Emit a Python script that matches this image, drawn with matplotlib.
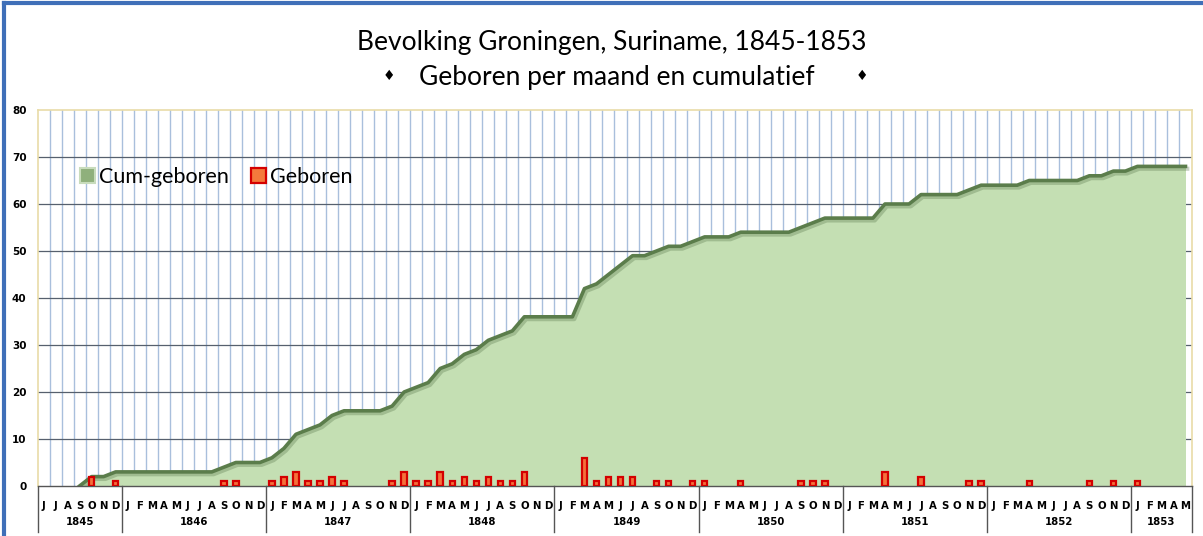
import numpy as np
import matplotlib.pyplot as plt
from matplotlib.lines import Line2D
from matplotlib.patches import Patch
import matplotlib.transforms as mtransforms

# monthly births, Jun 1845 .. May 1853
geboren_1845 = [0, 0, 0, 0, 2, 0, 1]
geboren_1846 = [0, 0, 0, 0, 0, 0, 0, 0, 1, 1, 0, 0]
geboren_1847 = [1, 2, 3, 1, 1, 2, 1, 0, 0, 0, 1, 3]
geboren_1848 = [1, 1, 3, 1, 2, 1, 2, 1, 1, 3, 0, 0]
geboren_1849 = [0, 0, 6, 1, 2, 2, 2, 0, 1, 1, 0, 1]
geboren_1850 = [1, 0, 0, 1, 0, 0, 0, 0, 1, 1, 1, 0]
geboren_1851 = [0, 0, 0, 3, 0, 0, 2, 0, 0, 0, 1, 1]
geboren_1852 = [0, 0, 0, 1, 0, 0, 0, 0, 1, 0, 1, 0]
geboren_1853 = [1, 0, 0, 0, 0]

# cumulative, as read from the area
cum_1845 = [0, 0, 0, 0, 2, 2, 3]
cum_1846 = [3, 3, 3, 3, 3, 3, 3, 3, 4, 5, 5, 5]
cum_1847 = [6, 8, 11, 12, 13, 15, 16, 16, 16, 16, 17, 20]
cum_1848 = [21, 22, 25, 26, 28, 29, 31, 32, 33, 36, 36, 36]
cum_1849 = [36, 36, 42, 43, 45, 47, 49, 49, 50, 51, 51, 52]
cum_1850 = [53, 53, 53, 54, 54, 54, 54, 54, 55, 56, 57, 57]
cum_1851 = [57, 57, 57, 60, 60, 60, 62, 62, 62, 62, 63, 64]
cum_1852 = [64, 64, 64, 65, 65, 65, 65, 65, 66, 66, 67, 67]
cum_1853 = [68, 68, 68, 68, 68]

years = ['1845', '1846', '1847', '1848', '1849', '1850', '1851', '1852', '1853']
month_letters = ['J', 'F', 'M', 'A', 'M', 'J', 'J', 'A', 'S', 'O', 'N', 'D']

geboren = np.array(geboren_1845 + geboren_1846 + geboren_1847 + geboren_1848 + geboren_1849
                   + geboren_1850 + geboren_1851 + geboren_1852 + geboren_1853)
cum = np.array(cum_1845 + cum_1846 + cum_1847 + cum_1848 + cum_1849
               + cum_1850 + cum_1851 + cum_1852 + cum_1853)
year_len = [7, 12, 12, 12, 12, 12, 12, 12, 5]
labels = month_letters[5:] + month_letters * 7 + month_letters[:5]

x = np.arange(len(geboren))

fig = plt.figure(figsize=(12.03, 5.36), dpi=100)
ax = fig.add_axes([37.5 / 1203, 1 - 486 / 536, 1154 / 1203, 376 / 536])

fill_c = '#c4dfb3'
edge_c = '#5b7d4b'

# grid
for b in np.arange(0.5, len(x) - 0.5, 1):
    ax.axvline(b, color='#a9bfdc', lw=1.0, zorder=0)
for yv in range(10, 80, 10):
    ax.axhline(yv, color='#56606e', lw=0.9, zorder=0.5)

# area with shadow + edge (edge only where the area leaves zero)
ax.fill_between(x, cum, 0, color=fill_c, lw=0, zorder=1)
s = 3
ax.plot(x[s:] + 0.15, cum[s:] - 0.5, color='#4d6b40', lw=3, alpha=0.3, zorder=1.1,
        solid_joinstyle='round')
ax.plot(x[s:], cum[s:], color=edge_c, lw=2.6, zorder=1.2, solid_joinstyle='round')

# bars, only months with births
m = geboren > 0
ax.bar(x[m], geboren[m], width=0.45, color='#f4713b', edgecolor='#d40000', lw=1.6, zorder=3)

ax.set_xlim(-0.5, len(x) - 0.5)
ax.set_ylim(0, 80)
ax.set_yticks(range(0, 81, 10))
ax.set_yticklabels([str(v) for v in range(0, 81, 10)], fontsize=7.5, fontweight='bold',
                   family='DejaVu Sans')
ax.set_xticks(x)
ax.set_xticklabels(labels, fontsize=7.3, fontweight='bold', family='DejaVu Sans')
ax.tick_params(axis='both', length=0)
ax.tick_params(axis='x', pad=11)
ax.tick_params(axis='y', pad=8)

for sp in ['top', 'right', 'left']:
    ax.spines[sp].set_color('#e9dca8')
    ax.spines[sp].set_linewidth(1.2)
ax.spines['bottom'].set_color('#555555')
ax.spines['bottom'].set_linewidth(1.0)

# year separators and labels
trans = mtransforms.blended_transform_factory(ax.transData, ax.transAxes)
start = 0
bounds = [-0.5]
for yr, n in zip(years, year_len):
    ax.text(start + (n - 1) / 2, -0.095, yr, transform=trans, ha='center', va='center',
            fontsize=7.3, fontweight='bold', family='DejaVu Sans')
    start += n
    bounds.append(start - 0.5)
for b in bounds:
    ax.add_artist(Line2D([b, b], [0, -0.123], transform=trans, color='#555555', lw=1.0,
                         clip_on=False))

# legend
handles = [Patch(facecolor='#8fb07c', edgecolor='#c8dcbc', lw=1.5),
           Patch(facecolor='#f47a3c', edgecolor='#d40000', lw=1.6)]
leg = ax.legend(handles, ['Cum-geboren', 'Geboren'], loc='upper left',
                bbox_to_anchor=(0.02, 0.9), ncol=2, frameon=False,
                prop={'family': 'Lato', 'size': 15.5}, handlelength=0.7,
                handleheight=0.7, handletextpad=0.2, columnspacing=1.0)

# titles
fig.text(612 / 1203, 1 - 42 / 536, 'Bevolking Groningen, Suriname, 1845-1853', ha='center',
         va='center', fontsize=19, family='Lato')
fig.text(617 / 1203, 1 - 77 / 536, 'Geboren per maand en cumulatief', ha='center',
         va='center', fontsize=19, family='Lato')
for dx in [389, 862]:
    fig.text(dx / 1203, 1 - 76 / 536, '\u2666', ha='center', va='center', fontsize=10,
             family='DejaVu Sans')

# screenshot frame
fig.add_artist(Line2D([4 / 1203, 4 / 1203], [0, 1 - 3 / 536], transform=fig.transFigure,
                      color='#3f6fb8', lw=3))
fig.add_artist(Line2D([4 / 1203, 1], [1 - 3 / 536, 1 - 3 / 536], transform=fig.transFigure,
                      color='#3f6fb8', lw=3))

fig.savefig('out.png', dpi=100)
